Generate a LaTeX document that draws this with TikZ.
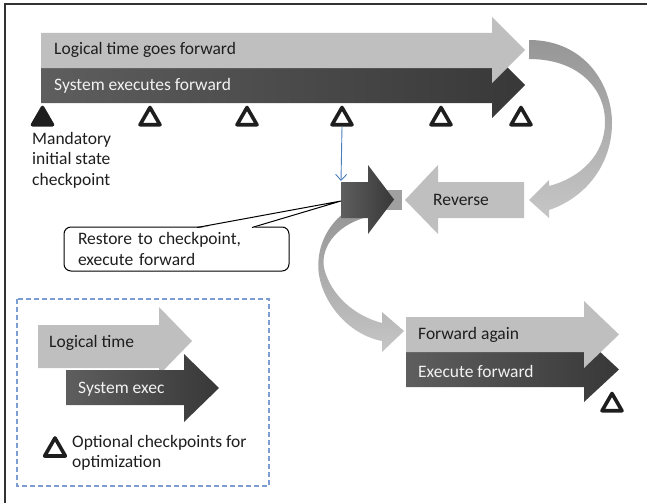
\documentclass[tikz,border=0pt]{standalone}
\usepackage{fontspec}
\setmainfont{Carlito}
\usepackage{tikz}
\usetikzlibrary{shapes.geometric,arrows.meta}
\definecolor{pale}{HTML}{BFBFBF}
\definecolor{darkl}{HTML}{5E5E5E}
\definecolor{darkr}{HTML}{383838}
\definecolor{midg}{HTML}{A0A0A0}
\definecolor{bendtop}{HTML}{969696}
\definecolor{bendbot}{HTML}{C6C6C6}
\definecolor{ink}{HTML}{1E1E1E}
\definecolor{inkw}{HTML}{F2F2F2}
\definecolor{link}{HTML}{4A7EBB}
\definecolor{legblue}{HTML}{7C9DD2}
\newcommand{\dfont}{\fontsize{17.5}{20.5}\selectfont}
\tikzset{
  frame/.style={draw=black!80, line width=1.5pt},
  light/.style={fill=pale},
  darkarr/.style={left color=darkl, right color=darkr},
  curvearr/.style={top color=bendtop, bottom color=bendbot},
  cpt/.style={regular polygon, regular polygon sides=3, draw=ink, line width=3.6pt,
    line join=round, fill=white, minimum size=23pt, inner sep=0pt},
  cptfull/.style={cpt, fill=ink},
  lab/.style={font=\dfont, text=ink, inner sep=0pt, anchor=west},
  labw/.style={lab, text=inkw},
  callout/.style={draw=black, line width=1pt},
  legbox/.style={draw=legblue, line width=1.2pt, dash pattern=on 5pt off 3pt},
}

\begin{document}
\begin{tikzpicture}[x=1pt,y=-1pt]
  \useasboundingbox (0,0) rectangle (647,503);
  \draw[frame] (5,503) -- (5,4) -- (647,4);

  % main timeline
  \shade[darkarr] (41,68) -- (492,68) -- (492,52) -- (525,85) -- (492,118) -- (492,103) -- (41,103) -- cycle;
  \fill[light] (41,33) -- (492,33) -- (492,17) -- (525,50) -- (492,83) -- (492,68) -- (41,68) -- cycle;
  \node[lab] (lt) at (54,50) {Logical time goes forward};
  \node[labw] (se) at (54,86) {System executes forward};

  % checkpoints
  \node[cptfull] (cp1) at (42.5,119) {};
  \foreach \x/\i in {150/2,247/3,342/4,441/5,521/6}
    \node[cpt] (cp\i) at (\x,119) {};
  \node[lab, anchor=north west, align=left] (mand) at (32,132) {Mandatory\\initial state\\checkpoint};

  % turn back
  \shade[curvearr] (529,40) .. controls (585,40) and (612,85) .. (612,123)
    .. controls (612,165) and (585,198) .. (549,210) -- (549,218) -- (529,200) -- (549,180) -- (549,186)
    .. controls (580,178) and (605,155) .. (605,122) .. controls (605,88) and (578,59) .. (529,59) -- cycle;
  \fill[light] (524,182) -- (438,182) -- (438,165) -- (405,200) -- (438,234) -- (438,218) -- (524,218) -- cycle;
  \node[lab] (rev) at (433,200) {Reverse};

  % restore
  \fill[midg] (386,190) rectangle (402,210);
  \shade[curvearr] (345,212) .. controls (322,230) and (316,255) .. (319,275)
    .. controls (324,305) and (350,335) .. (382,341) -- (382,352) -- (404,331) -- (382,312) -- (382,323)
    .. controls (355,316) and (331,296) .. (324,268) .. controls (320,245) and (340,222) .. (372,216) -- cycle;
  \shade[darkarr] (341,182) -- (368,182) -- (368,165) -- (394,199.5) -- (368,234) -- (368,218) -- (341,218) -- cycle;
  \coordinate (rtop) at (341,181);
  \coordinate (rptr) at (341,201);
  \draw[link, line width=0.9pt, -{Straight Barb[length=6pt,width=11pt]}] (cp4.south) -- (rtop);

  \node[callout, rounded corners=7pt, minimum height=44pt, text width=197pt, inner xsep=14pt,
    inner ysep=0pt, align=left, font=\dfont, text=ink] (restore) at (176.5,249)
    {Restore to checkpoint,\\execute forward};
  \coordinate (w1) at (197,227.5);
  \coordinate (w2) at (252,227.5);
  \fill[white] (197.6,228.4) -- (rptr) -- (251.4,228.4) -- cycle;
  \draw[callout, line join=round] (w1) -- (rptr) -- (w2);

  % forward again
  \shade[darkarr] (406,352) -- (584,352) -- (584,337) -- (619,369.5) -- (584,402) -- (584,387) -- (406,387) -- cycle;
  \fill[light] (406,317) -- (584,317) -- (584,301) -- (619,334.5) -- (584,368) -- (584,352) -- (406,352) -- cycle;
  \node[lab] (fa) at (418,335) {Forward again};
  \node[labw] (ef) at (418,371) {Execute forward};
  \node[cpt] (cp7) at (612,405) {};

  % legend
  \draw[legbox] (17,299) rectangle (269,486);
  \fill[light] (38,325) -- (159,325) -- (159,307) -- (192,341) -- (159,375) -- (159,368) -- (38,368) -- cycle;
  \shade[darkarr] (66,370) -- (184,370) -- (184,354) -- (219,388) -- (184,422) -- (184,405) -- (66,405) -- cycle;
  \node[lab] (leglt) at (49,343) {Logical time};
  \node[labw] (legse) at (78,389) {System exec};
  \node[cpt, minimum size=24pt] (legcp) at (55,450) {};
  \node[lab, anchor=north west, align=left] (legtxt) at (72,435) {Optional checkpoints for\\optimization};
\end{tikzpicture}
\end{document}
